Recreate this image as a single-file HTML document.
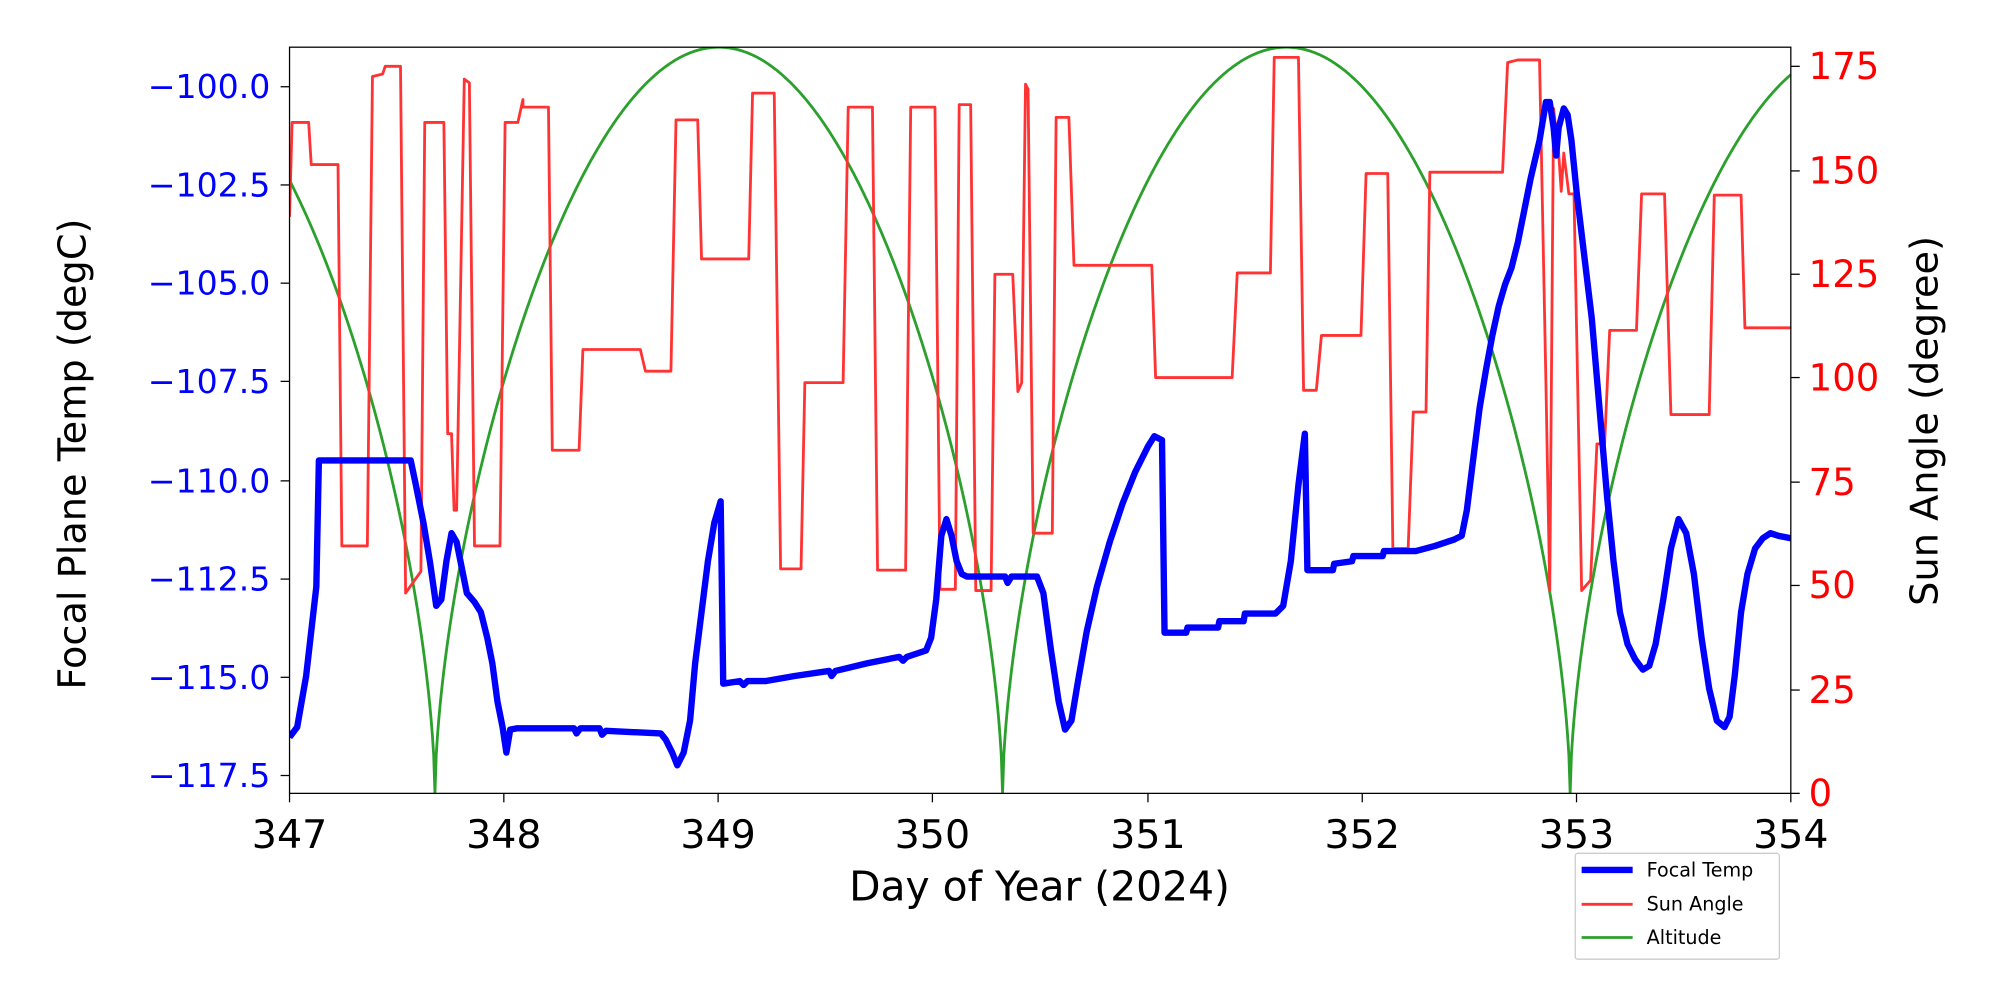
<!DOCTYPE html>
<html><head><meta charset="utf-8"><style>html,body{margin:0;padding:0;background:#fff}svg{display:block}</style></head>
<body>
<svg width="2000" height="1000" viewBox="0 0 1568 784" xmlns="http://www.w3.org/2000/svg" font-family="'DejaVu Sans', 'Liberation Sans', sans-serif">
<rect width="1568" height="784" fill="#fff"/>
<defs><clipPath id="c"><rect x="227" y="37" width="1177" height="585"/></clipPath></defs>
<g clip-path="url(#c)">
<path id="green" fill="none" stroke="#2ca02c" stroke-width="2.2"/>
<polyline fill="none" stroke="#ff3333" stroke-width="2.2" stroke-linejoin="round" points="227,170 229,96 242,96 244,129 265,129 268,428 288,428 292,60 300,58 302,52 314,52 318,465 325,455 330,448 333,96 348,96 351,340 354,340 356,400 358,400 364,62 368,65 372,428 392,428 396,96 406,96 410,78 410,84 430,84 433,353 454,353 457,274 502,274 506,291 526,291 530,94 547,94 550,203 587,203 590,73 607,73 612,446 628,446 631,300 661,300 665,84 684,84 688,447 710,447 714,84 733,84 737,462 749,462 752,82 761,82 765,463 777,463 780,215 794,215 798,307 801,300 804,66 806,70 810,418 825,418 828,92 838,92 842,208 903,208 906,296 966,296 970,214 996,214 999,45 1018,45 1022,306 1032,306 1036,263 1067,263 1071,136 1088,136 1092,430 1104,430 1108,323 1118,323 1121,135 1178,135 1182,49 1190,47 1207,47 1212,300 1215,463 1218,85 1222,120 1224,150 1226,120 1230,152 1234,152 1240,463 1247,455 1252,348 1258,348 1262,259 1283,259 1287,152 1305,152 1310,325 1340,325 1344,153 1365,153 1368,257 1404,257"/>
<polyline fill="none" stroke="#0000ff" stroke-width="5" stroke-linejoin="round" points="227,578 233,570 240,530 248,460 250,361 322,361 326,380 332,410 337,440 342,475 346,470 350,440 354,418 358,425 362,445 366,465 372,472 377,480 382,500 386,520 390,550 394,570 397,590 400,572 405,571 450,571 452,575 455,571 470,571 472,576 475,573 518,575 522,580 527,590 531,600 536,590 541,565 545,520 550,480 555,440 560,410 565,393 567,536 580,534 583,537 586,534 600,534 623,530 650,526 652,530 655,526 680,520 705,515 708,518 711,515 726,510 730,500 734,470 738,420 742,407 746,420 750,440 754,450 758,452 788,452 790,457 793,452 813,452 818,465 824,510 830,550 835,572 840,565 845,535 852,495 860,460 870,425 880,395 890,370 900,350 905,342 911,345 913,496 930,496 931,492 955,492 956,487 975,487 976,481 1000,481 1006,475 1012,440 1018,380 1023,340 1025,447 1045,447 1046,442 1060,440 1061,436 1084,436 1085,432 1110,432 1125,428 1140,423 1146,420 1150,400 1155,360 1160,320 1165,290 1170,263 1175,240 1180,223 1185,210 1190,190 1195,165 1200,140 1207,110 1212,80 1215,80 1218,100 1220,122 1222,100 1226,85 1229,90 1232,110 1236,150 1242,200 1248,250 1254,320 1260,390 1265,440 1270,480 1276,505 1282,517 1288,525 1293,522 1298,505 1304,470 1310,430 1316,407 1322,418 1328,450 1334,500 1340,540 1346,565 1352,570 1356,562 1360,530 1365,480 1370,450 1376,430 1382,422 1388,418 1394,420 1404,422"/>
</g>
<rect x="227" y="37" width="1177" height="585" fill="none" stroke="#000" stroke-width="1"/>
<g font-size="26" fill="#0000ff" text-anchor="end">
<text x="212" y="77">−100.0</text><text x="212" y="154">−102.5</text><text x="212" y="231">−105.0</text><text x="212" y="308">−107.5</text><text x="212" y="386">−110.0</text><text x="212" y="463">−112.5</text><text x="212" y="540">−115.0</text><text x="212" y="617">−117.5</text>
</g>
<g stroke="#000" stroke-width="1">
<line x1="220" y1="68" x2="227" y2="68"/><line x1="220" y1="145" x2="227" y2="145"/><line x1="220" y1="222" x2="227" y2="222"/><line x1="220" y1="299" x2="227" y2="299"/><line x1="220" y1="377" x2="227" y2="377"/><line x1="220" y1="454" x2="227" y2="454"/><line x1="220" y1="531" x2="227" y2="531"/><line x1="220" y1="608" x2="227" y2="608"/>
<line x1="1404" y1="622" x2="1411" y2="622"/><line x1="1404" y1="541" x2="1411" y2="541"/><line x1="1404" y1="459" x2="1411" y2="459"/><line x1="1404" y1="378" x2="1411" y2="378"/><line x1="1404" y1="296" x2="1411" y2="296"/><line x1="1404" y1="215" x2="1411" y2="215"/><line x1="1404" y1="134" x2="1411" y2="134"/><line x1="1404" y1="52" x2="1411" y2="52"/>
<line x1="227" y1="622" x2="227" y2="629"/><line x1="395" y1="622" x2="395" y2="629"/><line x1="563" y1="622" x2="563" y2="629"/><line x1="731" y1="622" x2="731" y2="629"/><line x1="900" y1="622" x2="900" y2="629"/><line x1="1068" y1="622" x2="1068" y2="629"/><line x1="1236" y1="622" x2="1236" y2="629"/><line x1="1404" y1="622" x2="1404" y2="629"/>
</g>
<g font-size="29" fill="#ff0000" text-anchor="start">
<text x="1418" y="632">0</text><text x="1418" y="551">25</text><text x="1418" y="469">50</text><text x="1418" y="388">75</text><text x="1418" y="306">100</text><text x="1418" y="225">125</text><text x="1418" y="144">150</text><text x="1418" y="62">175</text>
</g>
<g font-size="31" fill="#000" text-anchor="middle">
<text x="227" y="665">347</text><text x="395" y="665">348</text><text x="563" y="665">349</text><text x="731" y="665">350</text><text x="900" y="665">351</text><text x="1068" y="665">352</text><text x="1236" y="665">353</text><text x="1404" y="665">354</text>
<text x="815" y="706" font-size="32">Day of Year (2024)</text>
<text transform="translate(67,356) rotate(-90)" font-size="30">Focal Plane Temp (degC)</text>
<text transform="translate(1519,330) rotate(-90)" font-size="30">Sun Angle (degree)</text>
</g>
<rect x="1235" y="669" width="160" height="83" fill="#fff" stroke="#ccc" stroke-width="1" rx="2"/>
<line x1="1240" y1="682" x2="1280" y2="682" stroke="#0000ff" stroke-width="5"/>
<line x1="1240" y1="709" x2="1280" y2="709" stroke="#ff3333" stroke-width="2.2"/>
<line x1="1240" y1="735" x2="1280" y2="735" stroke="#2ca02c" stroke-width="2.2"/>
<g font-size="15" fill="#000"><text x="1291" y="687">Focal Temp</text><text x="1291" y="714">Sun Angle</text><text x="1291" y="740">Altitude</text></g>
</svg>
<script>
var p=[];for(var x=227;x<=1404;x+=1){var s=Math.abs(Math.sin(Math.PI*(x-341)/445));var y=622-585*Math.pow(s,0.6);p.push((x==227?'M':'L')+x+','+y.toFixed(1));}
document.getElementById('green').setAttribute('d',p.join(' '));
</script>
</body></html>
